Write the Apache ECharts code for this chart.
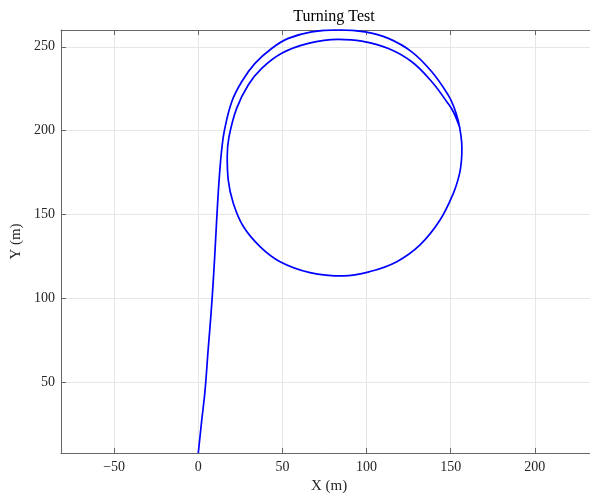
<!DOCTYPE html>
<html>
<head>
<meta charset="utf-8">
<script src="https://cdn.jsdelivr.net/npm/echarts@6/dist/echarts.min.js"></script>
<style>html,body{margin:0;padding:0;background:#fff;}#c{width:590px;height:495px;}</style>
</head>
<body>
<div id="c"></div>
<script>
// Trajectory: x positions (m) and y positions (m), in driving order
const pathX = [0, 2, 4, 5.9, 7.5, 9, 10.3, 11.5, 12.7, 13.9, 15.5, 19.9, 25.8, 33.7, 43.6, 53.5, 67.4, 83.2, 99.1, 113, 126.9, 138.8, 148.6, 152, 154.5, 156, 156.7, 156.4, 155.2, 151.6, 143.7, 131.8, 118, 102.1, 86.2, 66.4, 48.6, 36.7, 26.8, 20.8, 17.8, 17.2, 18.2, 22.8, 29.7, 37.7, 49.6, 65.4, 83.2, 97.1, 113, 126.9, 138.8, 147.7, 151.6, 155.6];
const pathY = [8, 27, 45, 70, 90, 112, 135, 157, 175, 188.5, 200, 217.3, 229.2, 240.1, 249, 255, 258.9, 260.1, 258.9, 255, 247, 235.1, 221.2, 214, 206, 198, 190, 182, 174, 162.7, 146.8, 132, 122, 116.1, 113.5, 115.5, 122, 131, 142.9, 156.8, 170.7, 184.5, 196, 213.3, 227.2, 237.1, 246.1, 252, 254.4, 253.4, 249, 241.1, 229.2, 217.3, 211.3, 201.4];
const xTicks = [-50, 0, 50, 100, 150, 200];
const yTicks = [50, 100, 150, 200, 250];
const xRange = [-81.6, 237];
const yRange = [8, 260];

const pts = pathX.map((x, i) => [x, pathY[i]]);
const fmt = v => (v < 0 ? '\u2212' + Math.abs(v) : String(v));
const font = 'Liberation Serif';
const axisCol = '#666666';
const txtCol = '#262626';

const chart = echarts.init(document.getElementById('c'), null, {renderer: 'canvas'});
chart.setOption({
  backgroundColor: '#ffffff',
  animation: false,
  title: {
    text: 'Turning Test', left: 329, top: 4, textAlign: 'center',
    textStyle: {fontFamily: font, fontSize: 16, fontWeight: 'normal', color: '#000'}
  },
  grid: {left: 61, top: 30, width: 536, height: 423, containLabel: false, outerBoundsMode: 'none'},
  xAxis: [{
    type: 'value', min: xRange[0], max: xRange[1], position: 'bottom',
    name: 'X (m)', nameLocation: 'middle', nameGap: 26,
    nameTextStyle: {fontFamily: font, fontSize: 15, color: txtCol},
    axisLine: {show: true, onZero: false, lineStyle: {color: axisCol, width: 1}},
    axisTick: {show: true, inside: true, length: 5, customValues: xTicks, lineStyle: {color: axisCol}},
    axisLabel: {customValues: xTicks, formatter: fmt, margin: 7, fontFamily: font, fontSize: 14, color: txtCol},
    splitLine: {show: true, lineStyle: {color: '#e6e6e6', width: 1}}
  }, {
    type: 'value', min: xRange[0], max: xRange[1], position: 'top',
    axisLine: {show: true, onZero: false, lineStyle: {color: axisCol, width: 1}},
    axisTick: {show: true, inside: true, length: 5, customValues: xTicks, lineStyle: {color: axisCol}},
    axisLabel: {show: false}, splitLine: {show: false}
  }],
  yAxis: [{
    type: 'value', min: yRange[0], max: yRange[1], position: 'left',
    name: 'Y (m)', nameLocation: 'middle', nameGap: 26,
    nameTextStyle: {fontFamily: font, fontSize: 15, color: txtCol},
    axisLine: {show: true, onZero: false, lineStyle: {color: axisCol, width: 1}},
    axisTick: {show: true, inside: true, length: 5, customValues: yTicks, lineStyle: {color: axisCol}},
    axisLabel: {customValues: yTicks, margin: 6, fontFamily: font, fontSize: 14, color: txtCol},
    splitLine: {show: true, lineStyle: {color: '#e6e6e6', width: 1}}
  }],
  series: [{
    type: 'line', data: pts, xAxisIndex: 0, yAxisIndex: 0,
    showSymbol: false, smooth: 0.4, clip: true,
    lineStyle: {color: '#0000ff', width: 1.7}
  }]
});
</script>
</body>
</html>
